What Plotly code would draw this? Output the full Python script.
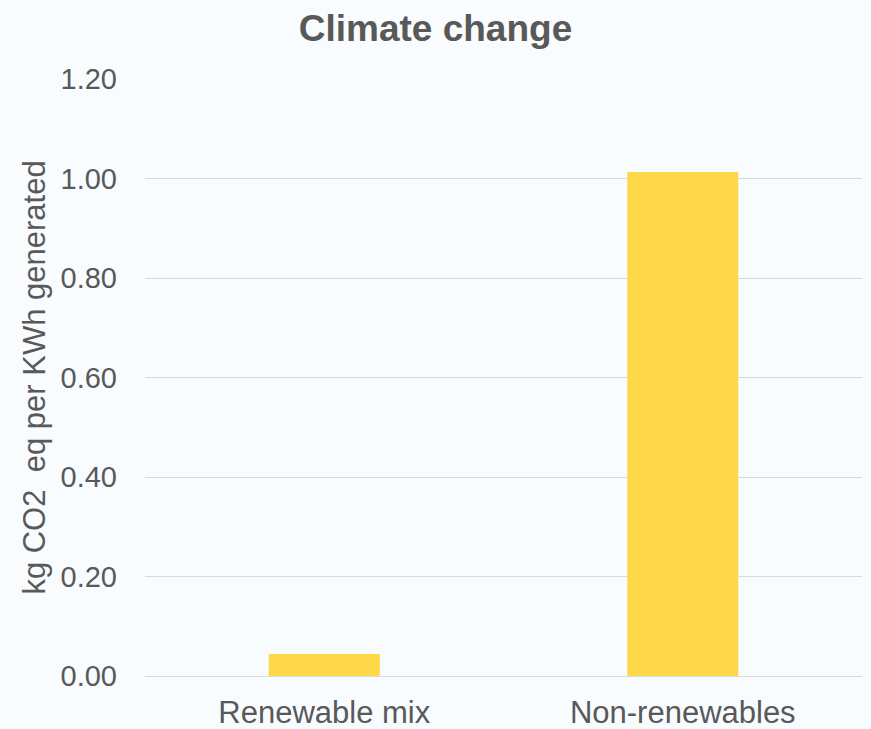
import plotly.graph_objects as go

# Emissions per kWh generated, by supply type
categories = ["Renewable mix", "Non-renewables"]
values = [0.044, 1.013]
y_ticks = [0.0, 0.2, 0.4, 0.6, 0.8, 1.0, 1.2]
y_tick_labels = ["0.00", "0.20", "0.40", "0.60", "0.80", "1.00", "1.20"]

FONT = "Liberation Sans"
TEXT = "#595959"

fig = go.Figure(
    go.Bar(
        x=categories,
        y=values,
        marker=dict(color="#FFD84A", line=dict(width=0)),
        width=0.31,
    )
)

fig.update_layout(
    width=871,
    height=729,
    paper_bgcolor="#F8FCFF",
    plot_bgcolor="#F8FCFF",
    margin=dict(l=145, r=9, t=79, b=53),
    showlegend=False,
    title=dict(
        text="<b>Climate change</b>",
        x=0.5,
        xanchor="center",
        y=1 - 28 / 729,
        yanchor="middle",
        font=dict(family=FONT, size=37, color=TEXT),
    ),
    font=dict(family=FONT, color=TEXT),
)

fig.update_xaxes(
    automargin=False,
    showgrid=False,
    showline=True,
    linecolor="#D9D9D9",
    linewidth=1,
    ticks="",
    ticklabelstandoff=9,
    tickfont=dict(family=FONT, size=31, color=TEXT),
)

fig.update_yaxes(
    automargin=False,
    range=[0, 1.2],
    tickvals=y_ticks,
    ticktext=y_tick_labels,
    showgrid=True,
    gridcolor="#D9D9D9",
    gridwidth=1,
    zeroline=False,
    showline=False,
    ticks="",
    ticklabelstandoff=27,
    tickfont=dict(family=FONT, size=29, color=TEXT),
    title=dict(
        text="kg CO2&nbsp; eq per KWh generated",
        font=dict(family=FONT, size=31, color=TEXT),
        standoff=5,
    ),
)

fig.write_html("out.html")
